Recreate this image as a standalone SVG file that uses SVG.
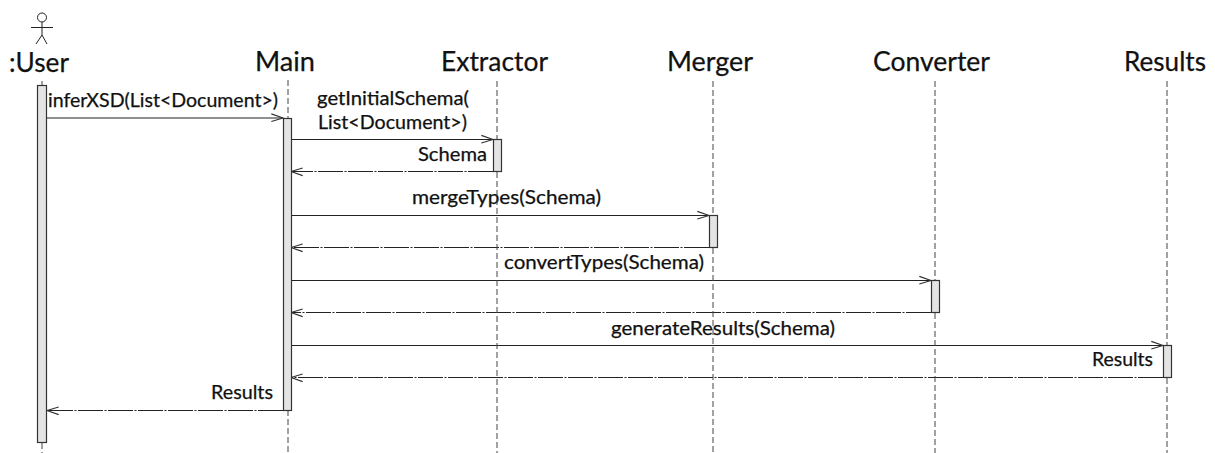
<svg xmlns="http://www.w3.org/2000/svg" width="1215" height="453" viewBox="0 0 1215 453">
<defs>
<marker id="open" markerUnits="userSpaceOnUse" markerWidth="14" markerHeight="12" refX="11" refY="5" orient="auto-start-reverse" viewBox="0 0 12 10"><path d="M1 1.500 L11 5 L1 8" fill="none" stroke="#333" stroke-width="1"/></marker>
</defs>
<style>
text{font-family:Lato,Carlito,"Liberation Sans",sans-serif;fill:#111;stroke:#111;stroke-width:.25px}
.h{font-size:27px}
.m{font-size:18.500px}
.life{stroke:#444;stroke-width:1;stroke-dasharray:6 3;fill:none}
.act{fill:#e4e4e4;stroke:#333;stroke-width:1.200}
.call{stroke:#222;stroke-width:1.200;fill:none;marker-end:url(#open)}
.ret{stroke:#222;stroke-width:1.200;stroke-dasharray:25 1.500 2 1.500;fill:none;marker-end:url(#open)}
</style>
<rect width="1215" height="453" fill="#fff"/>
<g id="connectors">
<path class="call" d="M47 118H283"/>
<path class="call" d="M291 139.500H493"/>
<path class="ret" d="M493 171.500H291"/>
<path class="call" d="M291 215.500H709"/>
<path class="ret" d="M709 247.500H291"/>
<path class="call" d="M291 280.500H931"/>
<path class="ret" d="M931 312.500H291"/>
<path class="call" d="M291 345.500H1163"/>
<path class="ret" d="M1163 377.500H291"/>
<path class="ret" d="M283 410.500H47"/>
<text class="m" x="48" y="107" textLength="230" lengthAdjust="spacingAndGlyphs">inferXSD(List&lt;Document&gt;)</text>
<text class="m" x="317" y="105" textLength="152" lengthAdjust="spacingAndGlyphs">getInitialSchema(</text>
<text class="m" x="318" y="129" textLength="149" lengthAdjust="spacingAndGlyphs">List&lt;Document&gt;)</text>
<text class="m" x="418" y="161" textLength="69" lengthAdjust="spacingAndGlyphs">Schema</text>
<text class="m" x="412" y="204" textLength="189" lengthAdjust="spacingAndGlyphs">mergeTypes(Schema)</text>
<text class="m" x="504" y="269" textLength="200" lengthAdjust="spacingAndGlyphs">convertTypes(Schema)</text>
<text class="m" x="611" y="335" textLength="224" lengthAdjust="spacingAndGlyphs">generateResults(Schema)</text>
<text class="m" x="1092" y="366" textLength="61" lengthAdjust="spacingAndGlyphs">Results</text>
<text class="m" x="211" y="399" textLength="62" lengthAdjust="spacingAndGlyphs">Results</text>
</g>
<g id="user">
<circle cx="42" cy="17.500" r="4.500" fill="none" stroke="#222"/>
<path d="M42 22V35M31 27.500H53M42 35L36 44M42 35L47 44" fill="none" stroke="#222"/>
<text class="h" x="9" y="72" textLength="60" lengthAdjust="spacingAndGlyphs">:User</text>
<path class="life" d="M42 81V85M42 443V453"/>
<rect class="act" x="37.500" y="85.500" width="9" height="357"/>
</g>
<g id="main">
<text class="h" x="255" y="71" textLength="60" lengthAdjust="spacingAndGlyphs">Main</text>
<path class="life" d="M288 80V118M288 410V453"/>
<rect class="act" x="283.500" y="118.500" width="8" height="292"/>
</g>
<g id="extractor">
<text class="h" x="441" y="71" textLength="107" lengthAdjust="spacingAndGlyphs">Extractor</text>
<path class="life" d="M497 81V139M497 172V453"/>
<rect class="act" x="493.500" y="139.500" width="8" height="32"/>
</g>
<g id="merger">
<text class="h" x="667" y="71" textLength="86" lengthAdjust="spacingAndGlyphs">Merger</text>
<path class="life" d="M713 81V215M713 248V453"/>
<rect class="act" x="709.500" y="215.500" width="8" height="32"/>
</g>
<g id="converter">
<text class="h" x="873" y="71" textLength="117" lengthAdjust="spacingAndGlyphs">Converter</text>
<path class="life" d="M935 81V280M935 313V453"/>
<rect class="act" x="931.500" y="280.500" width="8" height="32"/>
</g>
<g id="results">
<text class="h" x="1124" y="71" textLength="82" lengthAdjust="spacingAndGlyphs">Results</text>
<path class="life" d="M1167 81V345M1167 378V453"/>
<rect class="act" x="1163.500" y="345.500" width="8" height="32"/>
</g>
</svg>
